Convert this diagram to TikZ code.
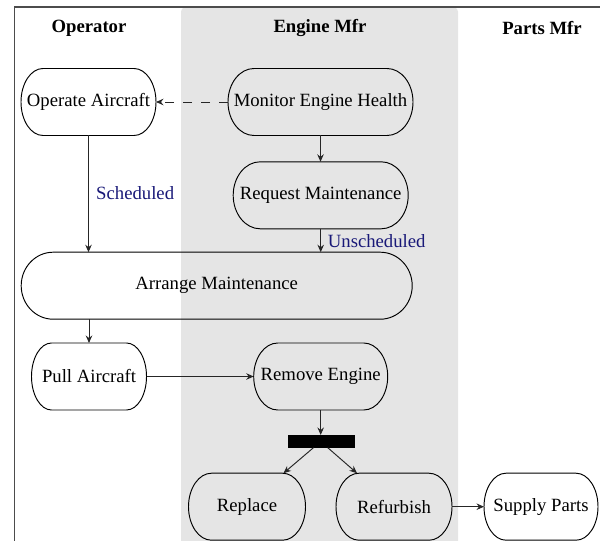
\documentclass[tikz,border=0pt]{standalone}
\usepackage{fontspec}
\setmainfont{Liberation Serif}
\usetikzlibrary{arrows.meta,calc}
\definecolor{lblc}{RGB}{25,25,120}
\definecolor{lane}{RGB}{229,229,229}
\begin{document}
\begin{tikzpicture}[x=1bp,y=1bp,
  font=\fontsize{18.7bp}{22bp}\selectfont,
  act/.style={rectangle, draw=none, minimum height=67bp, inner sep=0pt, outer sep=0pt},
  conn/.style={draw=black!85, line width=0.95bp, -{Stealth[length=7.5bp,width=6.5bp,inset=2.5bp]}},
  lbl/.style={text=lblc, anchor=west, inner sep=0pt},
  hdr/.style={font=\fontsize{18.7bp}{22bp}\selectfont\bfseries, inner sep=0pt},
  border/.style={draw=black, line width=0.95bp}]
\useasboundingbox (0,0) rectangle (600,-541);
\begin{scope}
\clip (0,0) rectangle (600,-541);
\fill[lane, rounded corners=4bp] (181,-7.5) rectangle (458,-570);
\draw[black!70, line width=1.3bp] (14.6,-570) -- (14.6,-7) -- (620,-7);

\node[hdr] (h1) at (89,-28.3) {Operator};
\node[hdr] (h2) at (320,-28.3) {Engine Mfr};
\node[hdr] (h3) at (542,-28.3) {Parts Mfr};

\node[act, minimum width=135bp] (op)   at (88.5,-102) {Operate Aircraft};
\node[act, minimum width=185bp] (mon)  at (320.5,-102) {Monitor Engine Health};
\node[act, minimum width=175bp] (req)  at (320.7,-195.3) {Request Maintenance};
\node[act, minimum width=391bp] (arr)  at (216.7,-285.7) {Arrange Maintenance};
\node[act, minimum width=115bp] (pull) at (89,-376.5) {Pull Aircraft};
\node[act, minimum width=134bp] (rem)  at (320.7,-376.5) {Remove Engine};
\node[fill=black, minimum width=67bp, minimum height=12.7bp, inner sep=0pt, outer sep=0pt] (bar) at (321,-441.3) {};
\node[act, minimum width=117bp] (rep)  at (247,-506.7) {Replace};
\node[act, minimum width=116bp] (ref)  at (394,-506.7) {Refurbish};
\node[act, minimum width=114bp] (sup)  at (541,-506.7) {Supply Parts};

\foreach \n/\r in {op/22,mon/26,req/27,arr/32,pull/20,rem/24,rep/23,ref/23,sup/22}{
  \draw[border] ($(\n.north west)+(\r,0)$) -- ($(\n.north east)+(-\r,0)$)
    arc[start angle=90,end angle=-90,x radius=\r bp,y radius=33.5bp]
    -- ($(\n.south west)+(\r,0)$)
    arc[start angle=270,end angle=90,x radius=\r bp,y radius=33.5bp] -- cycle;
}

\node[lbl] (l1) at (96,-193.3) {Scheduled};
\node[lbl] (l2) at (327.7,-240.7) {Unscheduled};

\draw[conn, dash pattern=on 9bp off 9bp] (mon.west) -- (op.east);
\draw[conn] (mon.south) -- (mon.south |- req.north);
\draw[conn] (op.south) -- (op.south |- arr.north);
\draw[conn] (req.south) -- (req.south |- arr.north);
\draw[conn] (pull.north |- arr.south) -- (pull.north);
\draw[conn] (pull.east) -- (rem.west);
\draw[conn] (rem.south) -- (rem.south |- bar.north);
\draw[conn] ([xshift=-7.5bp]bar.south) -- ([xshift=-22bp]rep.north east);
\draw[conn] ([xshift=6.7bp]bar.south) -- ([xshift=21bp]ref.north west);
\draw[conn] (ref.east) -- (sup.west);
\end{scope}
\end{tikzpicture}
\end{document}
